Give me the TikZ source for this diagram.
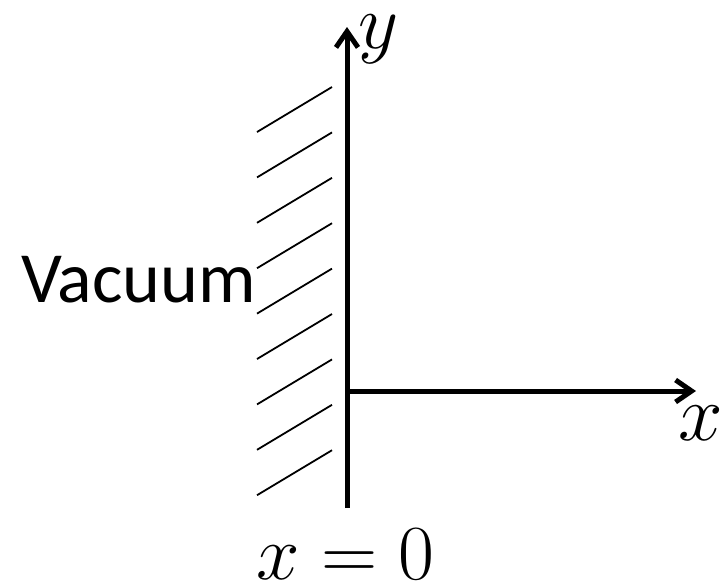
\RequirePackage{fix-cm}
\documentclass[tikz,border=0pt]{standalone}
\usepackage{fontspec}
\newfontfamily\calibri{Carlito}
\usetikzlibrary{arrows.meta}
\tikzset{
  axis/.style={line width=5pt, -{Straight Barb[length=16pt,width=22pt,line width=5pt]}},
  hatchline/.style={line width=1.8pt},
  lbl/.style={inner sep=0pt, outer sep=0pt},
}
\begin{document}
\begin{tikzpicture}[x=1pt,y=-1pt]
\useasboundingbox (0,0) rectangle (724,584);
\coordinate (o) at (347,391);
\coordinate (ybot) at (347,508);
\coordinate (ytop) at (347,27);
\coordinate (xend) at (696,391);
\draw[axis] (ybot) -- (ytop);
\draw[axis] (o) -- (xend);
\foreach \i in {0,...,8} {
  \coordinate (h\i a) at (257,{132+45.4*\i});
  \coordinate (h\i b) at (332,{87+45.4*\i});
  \draw[hatchline] (h\i a) -- (h\i b);
}
\node[lbl, anchor=base west] (vac) at (21,302) {\calibri\fontsize{72}{80}\selectfont Vacuum};
\node[lbl, anchor=base west] (ylbl) at (358,48) {\fontsize{78}{90}\selectfont $y$};
\node[lbl, anchor=base west] (xlbl) at (678,440) {\fontsize{80}{90}\selectfont $x$};
\node[lbl, anchor=base west] (x0) at (256,579) {\fontsize{78}{90}\selectfont $x=0$};
\end{tikzpicture}
\end{document}
